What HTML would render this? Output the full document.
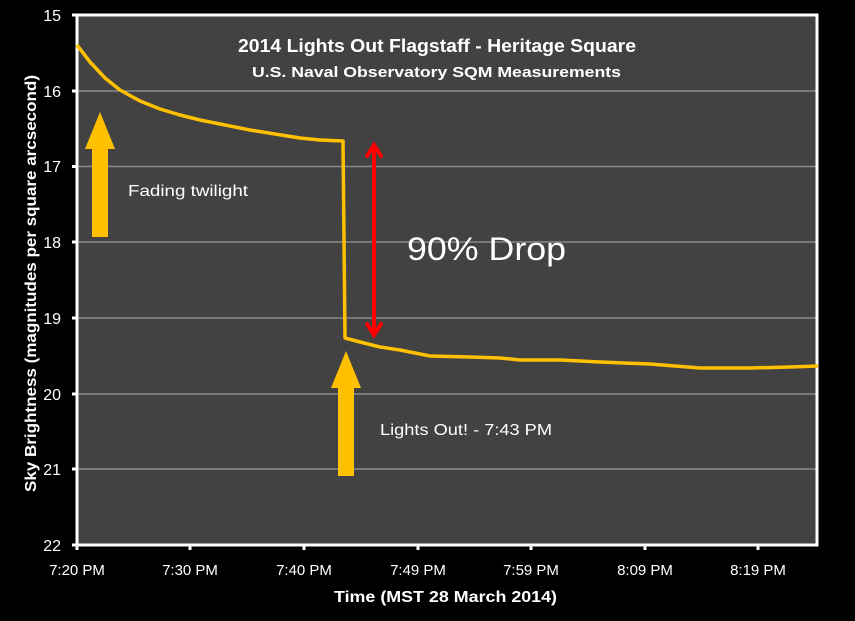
<!DOCTYPE html>
<html><head><style>html,body{margin:0;padding:0;background:#000;}svg{display:block}</style></head>
<body>
<svg width="855" height="621" viewBox="0 0 855 621" xmlns="http://www.w3.org/2000/svg" font-family="'Liberation Sans', sans-serif">
<rect width="855" height="621" fill="#000"/>
<rect x="77" y="15" width="740" height="530" fill="#424242"/>
<g stroke="#8a8a8a" stroke-width="1.5">
<line x1="78" x2="816" y1="91" y2="91"/><line x1="78" x2="816" y1="166.5" y2="166.5"/>
<line x1="78" x2="816" y1="242" y2="242"/><line x1="78" x2="816" y1="318" y2="318"/>
<line x1="78" x2="816" y1="394" y2="394"/><line x1="78" x2="816" y1="469" y2="469"/>
</g>
<rect x="77" y="15" width="740" height="530" fill="none" stroke="#fff" stroke-width="3"/>
<g stroke="#fff" stroke-width="3">
<line x1="72" x2="77" y1="15" y2="15"/><line x1="72" x2="77" y1="91" y2="91"/><line x1="72" x2="77" y1="166.5" y2="166.5"/>
<line x1="72" x2="77" y1="242" y2="242"/><line x1="72" x2="77" y1="318" y2="318"/><line x1="72" x2="77" y1="394" y2="394"/>
<line x1="72" x2="77" y1="469" y2="469"/><line x1="72" x2="77" y1="545" y2="545"/>
<line x1="77" x2="77" y1="545" y2="550"/><line x1="190" x2="190" y1="545" y2="550"/><line x1="304" x2="304" y1="545" y2="550"/>
<line x1="418" x2="418" y1="545" y2="550"/><line x1="531" x2="531" y1="545" y2="550"/><line x1="645" x2="645" y1="545" y2="550"/>
<line x1="758" x2="758" y1="545" y2="550"/>
</g>
<g fill="#fff" font-size="16" text-anchor="end">
<text x="61" y="21">15</text><text x="61" y="97">16</text><text x="61" y="172">17</text><text x="61" y="248">18</text>
<text x="61" y="324">19</text><text x="61" y="400">20</text><text x="61" y="475">21</text><text x="61" y="551">22</text>
</g>
<g fill="#fff" font-size="15" text-anchor="middle">
<text x="77" y="575">7:20 PM</text><text x="190" y="575">7:30 PM</text><text x="304" y="575">7:40 PM</text>
<text x="418" y="575">7:49 PM</text><text x="531" y="575">7:59 PM</text><text x="645" y="575">8:09 PM</text><text x="758" y="575">8:19 PM</text>
</g>
<text x="334" y="602" fill="#fff" font-size="16" font-weight="bold" textLength="223" lengthAdjust="spacingAndGlyphs">Time (MST 28 March 2014)</text>
<text transform="translate(36,492) rotate(-90)" fill="#fff" font-size="16" font-weight="bold" textLength="417" lengthAdjust="spacingAndGlyphs">Sky Brightness (magnitudes per square arcsecond)</text>
<text x="238" y="52" fill="#fff" font-size="18" font-weight="bold" textLength="398" lengthAdjust="spacingAndGlyphs">2014 Lights Out Flagstaff - Heritage Square</text>
<text x="252" y="77" fill="#fff" font-size="15" font-weight="bold" textLength="369" lengthAdjust="spacingAndGlyphs">U.S. Naval Observatory SQM Measurements</text>
<polyline fill="none" stroke="#FFC000" stroke-width="3.5" stroke-linejoin="round" points="77,45 90,62 105,78 120,90 140,101 160,109 180,115 200,120 225,125 250,130 275,134 300,138 320,140 343,141 345,338 360,342 380,347 400,350 430,356 470,357 500,358 520,360 560,360 600,362 650,364 700,368 750,368 790,367 818,366"/>
<g fill="#FFC000">
<polygon points="100,112 115,149 108,149 108,237 92,237 92,149 85,149"/>
<polygon points="346,351 361,388 354,388 354,476 338,476 338,388 331,388"/>
</g>
<g stroke="#FF0000" stroke-width="4" fill="none" stroke-linecap="round">
<line x1="374" y1="146" x2="374" y2="333"/>
<polyline points="367,156 374,145 381,156"/><polyline points="367,324 374,335 381,324"/>
</g>
<text x="128" y="196" fill="#fff" font-size="16" textLength="120" lengthAdjust="spacingAndGlyphs">Fading twilight</text>
<text x="380" y="435" fill="#fff" font-size="16" textLength="172" lengthAdjust="spacingAndGlyphs">Lights Out! - 7:43 PM</text>
<text x="407" y="260" fill="#fff" font-size="32" textLength="159" lengthAdjust="spacingAndGlyphs">90% Drop</text>
</svg>
</body></html>
